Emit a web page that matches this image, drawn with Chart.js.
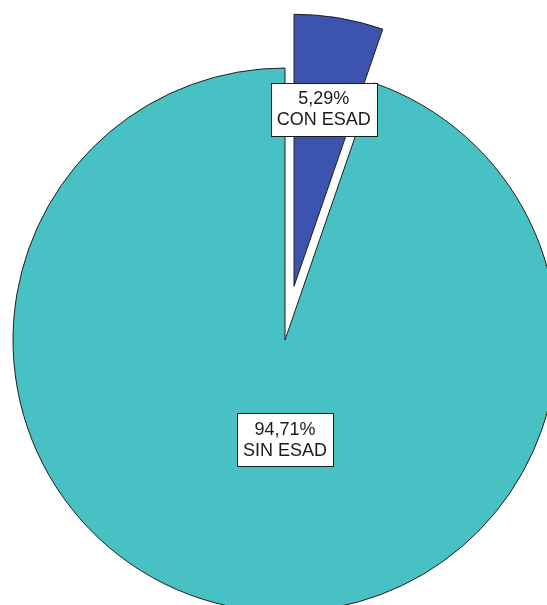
<!DOCTYPE html>
<html>
<head>
<meta charset="utf-8">
<script src="https://cdn.jsdelivr.net/npm/chart.js@4/dist/chart.umd.min.js"></script>
<style>
  html, body { margin: 0; padding: 0; background: #fff; overflow: hidden; width: 547px; height: 605px; }
  #wrap { position: absolute; left: -165px; top: -110px; }
</style>
</head>
<body>
<div id="wrap"><canvas id="pie" width="900" height="900"></canvas></div>
<script>
const categories = ['CON ESAD', 'SIN ESAD'];
const percents = [5.29, 94.71];
const sliceColors = ['#3d54ae', '#48c1c4'];
const explodeOffset = [218, 0];
// where the label box sits: angle (deg clockwise from top, null = slice bisector) and distance as fraction of radius
const labelAngle = [null, 180];
const labelDist = [0.66, 0.366];

const RADIUS = 272;

const fmtPct = (v) => v.toFixed(2).replace('.', ',') + '%';

// keep the pulled-out slice the same size and angle as in an SPSS exploded pie
const keepShape = {
  id: 'keepShape',
  beforeDatasetsDraw(chart) {
    chart.getDatasetMeta(0).data.forEach((arc) => {
      const o = (arc.options.offset || 0) / 4;
      if (!o) return;
      const fix = 1 - Math.sin(Math.min(Math.PI, arc.circumference));
      const rOff = o * fix;
      arc.outerRadius = RADIUS - rOff;
      const d = (rOff / Math.PI) / RADIUS;
      arc.startAngle -= d / 2;
      arc.endAngle += d / 2;
    });
  }
};

const boxLabels = {
  id: 'boxLabels',
  afterDatasetsDraw(chart) {
    const ctx = chart.ctx;
    const meta = chart.getDatasetMeta(0);
    ctx.save();
    ctx.font = '18px "Liberation Sans", Arial, sans-serif';
    ctx.textAlign = 'center';
    ctx.textBaseline = 'middle';
    meta.data.forEach((arc, i) => {
      const mid = (arc.startAngle + arc.endAngle) / 2;
      const shift = (arc.options.offset || 0) / 4;
      const a = labelAngle[i] === null ? mid : (labelAngle[i] - 90) * Math.PI / 180;
      const cx = arc.x + Math.cos(mid) * shift + Math.cos(a) * labelDist[i] * RADIUS;
      const cy = arc.y + Math.sin(mid) * shift + Math.sin(a) * labelDist[i] * RADIUS;
      const lines = [fmtPct(percents[i]), categories[i]];
      const w = Math.max(...lines.map((l) => ctx.measureText(l).width)) + 12;
      const h = 53;
      const x0 = Math.round(cx - w / 2) + 0.5;
      const y0 = Math.round(cy - h / 2) + 0.5;
      ctx.fillStyle = '#fff';
      ctx.fillRect(x0, y0, Math.round(w), h);
      ctx.strokeStyle = '#1a1a1a';
      ctx.lineWidth = 1;
      ctx.strokeRect(x0, y0, Math.round(w), h);
      ctx.fillStyle = '#1a1a1a';
      ctx.fillText(lines[0], cx, cy - 10);
      ctx.fillText(lines[1], cx, cy + 11);
    });
    ctx.restore();
  }
};

new Chart(document.getElementById('pie').getContext('2d'), {
  type: 'pie',
  data: {
    labels: categories,
    datasets: [{
      data: percents,
      backgroundColor: sliceColors,
      borderColor: '#1e1e1e',
      borderWidth: 1,
      offset: explodeOffset
    }]
  },
  options: {
    responsive: false,
    animation: false,
    radius: RADIUS,
    layout: { padding: 0 },
    events: [],
    plugins: {
      legend: { display: false },
      tooltip: { enabled: false }
    }
  },
  plugins: [keepShape, boxLabels]
});
</script>
</body>
</html>
